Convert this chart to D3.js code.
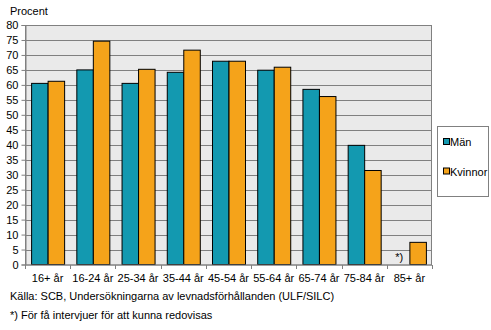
<!DOCTYPE html>
<html><head><meta charset="utf-8">
<script src="https://cdn.jsdelivr.net/npm/d3@7"></script>
<style>body{margin:0;background:#fff}svg{display:block;font-family:"Liberation Sans",Arial,sans-serif}</style>
</head><body><svg id="c" width="491" height="330"></svg>
<script>
const categories = ["16+ år","16-24 år","25-34 år","35-44 år","45-54 år","55-64 år","65-74 år","75-84 år","85+ år"];
const seriesNames = ["Män","Kvinnor"];
const man = [60.5, 65.0, 60.5, 64.2, 67.9, 64.9, 58.5, 39.8, null];
const kvinnor = [61.2, 74.6, 65.2, 71.6, 67.9, 65.9, 56.1, 31.4, 7.4];
const colors = ["#1399B0","#F5A31A"];
const yTicks = d3.range(0, 81, 5);

const svg = d3.select("#c");
const L = 25, R = 432, T = 25, B = 264.5;
const x = d3.scaleBand().domain(categories).range([L, R]).paddingInner(0.27).paddingOuter(0.135);
const xs = d3.scaleBand().domain(seriesNames).range([0, x.bandwidth()]);
const y = d3.scaleLinear().domain([0, 80]).range([B, T]);

svg.append("rect").attr("x", L).attr("y", T).attr("width", R - L).attr("height", B - T).attr("fill", "#EAEAEA");
svg.append("g").selectAll("line").data(yTicks.filter(d => d > 0)).join("line")
  .attr("x1", L).attr("x2", R).attr("y1", d => Math.round(y(d)) + 0.5).attr("y2", d => Math.round(y(d)) + 0.5)
  .attr("stroke", "#808080").attr("stroke-width", 1);
svg.append("rect").attr("x", L + 0.5).attr("y", T + 0.5).attr("width", R - L - 1).attr("height", B - T)
  .attr("fill", "none").attr("stroke", "#808080");

const data = categories.map((c, i) => ({c, vals: [man[i], kvinnor[i]]}));
const g = svg.append("g");
data.forEach(d => {
  d.vals.forEach((v, j) => {
    if (v == null) return;
    g.append("rect")
      .attr("x", x(d.c) + xs(seriesNames[j]) + 0.5)
      .attr("y", y(v))
      .attr("width", xs.bandwidth())
      .attr("height", y(0) - y(v))
      .attr("fill", colors[j]).attr("stroke", "#000").attr("stroke-width", 1);
  });
});
// *) note for missing
g.append("text").attr("x", x("85+ år") + xs("Män") + xs.bandwidth() / 2 - 2).attr("y", y(0) - 4)
  .attr("text-anchor", "middle").attr("font-size", 11).attr("fill", "#000").text("*)");

// Y axis
const yAxis = d3.axisLeft(y).tickValues(yTicks).tickSize(4).tickPadding(3);
const ya = svg.append("g").attr("transform", `translate(${L + 0.5},0)`).call(yAxis);
ya.select(".domain").attr("stroke", "#808080");
ya.selectAll(".tick line").attr("stroke", "#808080");
ya.selectAll(".tick text").attr("font-size", 11).attr("font-family", "Liberation Sans, Arial").attr("fill", "#000");

// X axis with ticks at boundaries
const xa = svg.append("g").attr("transform", `translate(0,${B + 0.5})`);
xa.append("line").attr("x1", L).attr("x2", R).attr("stroke", "#808080");
const bounds = d3.range(categories.length + 1).map(i => L + i * (R - L) / categories.length);
xa.selectAll(".bt").data(bounds).join("line").attr("class", "bt")
  .attr("x1", d => Math.round(d) + 0.5).attr("x2", d => Math.round(d) + 0.5).attr("y1", 0).attr("y2", 4).attr("stroke", "#808080");
xa.selectAll("text").data(categories).join("text")
  .attr("x", d => x(d) + x.bandwidth() / 2).attr("y", 17)
  .attr("text-anchor", "middle").attr("font-size", 11).attr("fill", "#000").text(d => d);

svg.append("text").attr("x", 10).attr("y", 15).attr("font-size", 11).text("Procent");
svg.append("text").attr("x", 10).attr("y", 300).attr("font-size", 11).text("Källa: SCB, Undersökningarna av levnadsförhållanden (ULF/SILC)");
svg.append("text").attr("x", 10).attr("y", 319).attr("font-size", 11).text("*) För få intervjuer för att kunna redovisas");

// Legend
const lg = svg.append("g");
lg.append("rect").attr("x", 437.5).attr("y", 126.5).attr("width", 51).attr("height", 70).attr("fill", "#fff").attr("stroke", "#808080");
seriesNames.forEach((s, i) => {
  const cy = [142, 171.5][i];
  lg.append("rect").attr("x", 443.5).attr("y", cy - 3.5).attr("width", 6).attr("height", 6).attr("fill", colors[i]).attr("stroke", "#000");
  lg.append("text").attr("x", 450).attr("y", cy + 4).attr("font-size", 11).text(s);
});
</script></body></html>
